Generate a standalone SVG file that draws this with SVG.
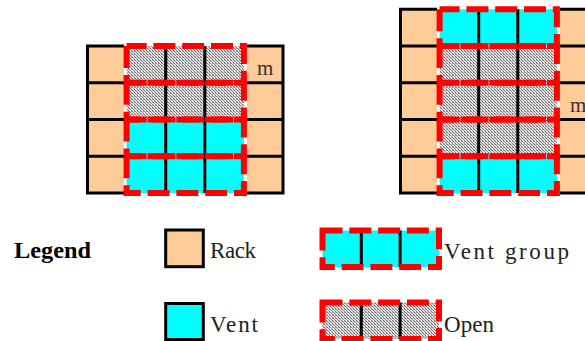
<svg xmlns="http://www.w3.org/2000/svg" width="585" height="341" viewBox="0 0 585 341">
<defs>
<pattern id="hatch" patternUnits="userSpaceOnUse" width="3" height="3">
<rect width="3" height="3" fill="#e6e6e6"/>
<rect x="0" y="0" width="1" height="1" fill="#6e6e6e"/>
<rect x="1" y="1" width="1" height="1" fill="#8a8a8a"/>
<rect x="2" y="2" width="1" height="1" fill="#6e6e6e"/>
<rect x="2" y="0" width="1" height="1" fill="#b0b0b0"/>
</pattern>
</defs>
<style>
.rack{fill:#FFCC99;stroke:none}
.blk{stroke:#000;stroke-width:3;fill:none}
.vent{fill:#00FFFF}
.open{fill:url(#hatch)}
.dash{fill:none;stroke:#FF0000;stroke-width:6;stroke-dasharray:22 6.8;stroke-dashoffset:2}
.bg{fill:#fff}
.t{font-family:"Liberation Serif","Times New Roman",serif;font-size:23px;fill:#222}
.lg{font-family:"Liberation Serif","Times New Roman",serif;font-size:23px;font-weight:bold;fill:#000}
.m{font-family:"Liberation Serif","Times New Roman",serif;font-size:21px;fill:#333}
</style>
<rect width="585" height="341" fill="#fff"/>

<!-- Left grid -->
<g id="gridA">
<rect class="rack" x="87.5" y="46" width="195.5" height="147"/>
<path class="blk" d="M87.5 82.75H126.6M87.5 119.5H126.6M87.5 156.25H126.6M243.9 82.75H283M243.9 119.5H283M243.9 156.25H283"/>
<path class="blk" d="M87.5 46H283V193H87.5Z"/>
<rect class="bg" x="124" y="43" width="123" height="153"/>
<rect class="open" x="126.6" y="46" width="117.3" height="73.5"/>
<rect class="vent" x="126.6" y="119.5" width="117.3" height="73.5"/>
<path class="blk" d="M165.7 46V193M204.8 46V193"/>
<rect class="dash" x="126.6" y="46" width="117.3" height="36.75"/>
<rect class="dash" x="126.6" y="82.75" width="117.3" height="36.75"/>
<rect class="dash" x="126.6" y="119.5" width="117.3" height="36.75"/>
<rect class="dash" x="126.6" y="156.25" width="117.3" height="36.75"/>
<text class="m" x="257" y="75">m</text>
</g>

<!-- Right grid -->
<g id="gridB">
<rect class="rack" x="400.5" y="9.25" width="195.5" height="183.75"/>
<path class="blk" d="M400.5 46H439.6M400.5 82.75H439.6M400.5 119.5H439.6M400.5 156.25H439.6M556.9 46H596M556.9 82.75H596M556.9 119.5H596M556.9 156.25H596"/>
<path class="blk" d="M400.5 9.25H596V193H400.5Z"/>
<rect class="bg" x="437" y="6" width="123" height="190"/>
<rect class="vent" x="439.6" y="9.25" width="117.3" height="36.75"/>
<rect class="open" x="439.6" y="46" width="117.3" height="110.25"/>
<rect class="vent" x="439.6" y="156.25" width="117.3" height="36.75"/>
<path class="blk" d="M478.7 9.25V193M517.8 9.25V193"/>
<rect class="dash" x="439.6" y="9.25" width="117.3" height="36.75"/>
<rect class="dash" x="439.6" y="46" width="117.3" height="36.75"/>
<rect class="dash" x="439.6" y="82.75" width="117.3" height="36.75"/>
<rect class="dash" x="439.6" y="119.5" width="117.3" height="36.75"/>
<rect class="dash" x="439.6" y="156.25" width="117.3" height="36.75"/>
<text class="m" x="570" y="111.5">m</text>
</g>

<!-- Legend -->
<g id="legend-title">
<text class="lg" x="14" y="258" textLength="77" lengthAdjust="spacingAndGlyphs">Legend</text>
</g>
<g id="legend-rack">
<rect class="rack" x="165.7" y="230" width="37.6" height="36.7"/>
<rect class="blk" x="165.7" y="230" width="37.6" height="36.7"/>
<text class="t" x="210" y="257.5" textLength="46" lengthAdjust="spacing">Rack</text>
</g>
<g id="legend-vent">
<rect class="vent" x="165.7" y="303.5" width="37.6" height="36"/>
<rect class="blk" x="165.7" y="303.5" width="37.6" height="36"/>
<text class="t" x="210" y="331.5" textLength="48" lengthAdjust="spacing">Vent</text>
</g>
<g id="legend-ventgroup">
<rect class="vent" x="322.5" y="230.5" width="116.5" height="36.5"/>
<path class="blk" d="M361.3 230.5V267M400.1 230.5V267"/>
<rect class="dash" x="322.5" y="230.5" width="116.5" height="36.5"/>
<text class="t" x="444" y="259" textLength="125" lengthAdjust="spacing">Vent group</text>
</g>
<g id="legend-open">
<rect class="open" x="322.5" y="302.5" width="116.5" height="36.5"/>
<path class="blk" d="M361.3 302.5V339M400.1 302.5V339"/>
<rect class="dash" x="322.5" y="302.5" width="116.5" height="36.5"/>
<text class="t" x="444" y="332" textLength="50" lengthAdjust="spacing">Open</text>
</g>
</svg>
